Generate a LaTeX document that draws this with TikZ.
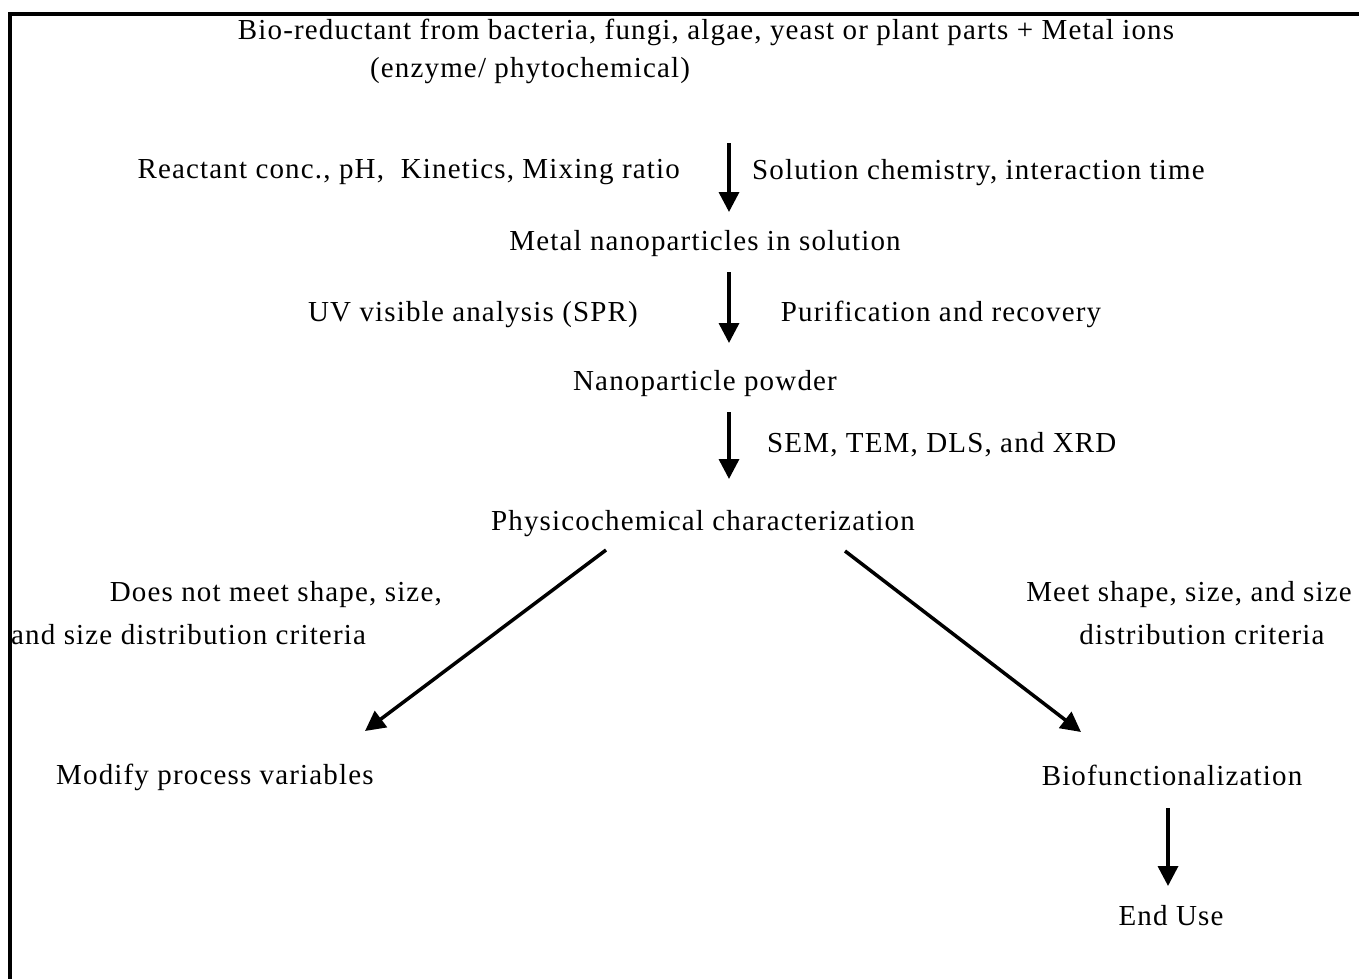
\documentclass[tikz,border=0pt]{standalone}
\usepackage{fontspec}
\setmainfont{Liberation Serif}[LetterSpace=4]
\usetikzlibrary{arrows.meta}
\begin{document}
\begin{tikzpicture}[x=1pt,y=-1pt,
  txt/.style={inner sep=0pt,yshift=-2.5pt,font=\fontsize{29}{34}\selectfont},
  arr/.style={line width=3.5pt,-{Triangle[width=20pt,length=20pt]}},
  frame/.style={line width=4pt}]
\useasboundingbox (0,0) rectangle (1359,979);
\draw[frame] (10,979) -- (10,14) -- (1359,14);
\node[txt] (top) at (706,30) {Bio-reductant from bacteria, fungi, algae, yeast or plant parts + Metal ions};
\node[txt] (top2) at (530,68) {(enzyme/ phytochemical)};
\coordinate (a1s) at (729,143);
\coordinate (a1e) at (729,212);
\draw[arr] (a1s) -- (a1e);
\node[txt,anchor=east] (l1) at (680,170) {Reactant conc., pH,\ \ Kinetics, Mixing ratio};
\node[txt,anchor=west] (r1) at (752,170) {Solution chemistry, interaction time};
\node[txt] (mnp) at (705,241) {Metal nanoparticles in solution};
\coordinate (a2s) at (729,272);
\coordinate (a2e) at (729,343);
\draw[arr] (a2s) -- (a2e);
\node[txt] (l2) at (473,312) {UV visible analysis (SPR)};
\node[txt] (r2) at (941,312) {Purification and recovery};
\node[txt] (pow) at (705,381) {Nanoparticle powder};
\coordinate (a3s) at (729,412);
\coordinate (a3e) at (729,479);
\draw[arr] (a3s) -- (a3e);
\node[txt,anchor=west] (r3) at (767,442) {SEM, TEM, DLS, and XRD};
\node[txt] (phys) at (703,521) {Physicochemical characterization};
\coordinate (dls) at (606,550);
\coordinate (dle) at (365,731);
\draw[arr] (dls) -- (dle);
\coordinate (drs) at (845,551);
\coordinate (dre) at (1081,732);
\draw[arr] (drs) -- (dre);
\node[txt,anchor=east] (dl1) at (442,592) {Does not meet shape, size,};
\node[txt,anchor=west] (dl2) at (11,632) {and size distribution criteria};
\node[txt,anchor=east] (dr1) at (1352,592) {Meet shape, size, and size};
\node[txt] (dr2) at (1202,632) {distribution criteria};
\node[txt,anchor=west] (mod) at (56,775) {Modify process variables};
\node[txt] (bio) at (1172,773) {Biofunctionalization};
\coordinate (a4s) at (1168,808);
\coordinate (a4e) at (1168,886);
\draw[arr] (a4s) -- (a4e);
\node[txt] (end) at (1171,913) {End Use};
\draw[frame] (10,979) -- (10,14);
\end{tikzpicture}
\end{document}
